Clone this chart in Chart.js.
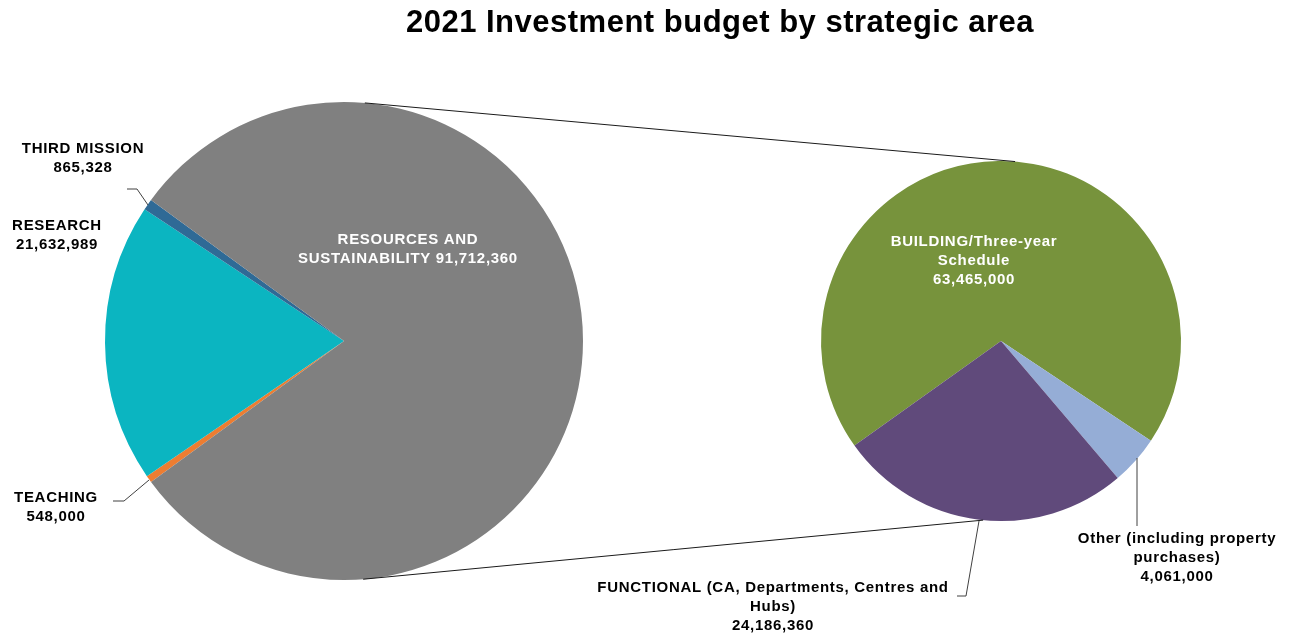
<!DOCTYPE html>
<html>
<head>
<meta charset="utf-8">
<title>2021 Investment budget by strategic area</title>
<script src="https://cdn.jsdelivr.net/npm/chart.js@4.4.1/dist/chart.umd.min.js"></script>
<style>
  html, body { margin: 0; padding: 0; background: #fff; }
  #wrap { position: relative; width: 1290px; height: 637px; }
  #wrap canvas { position: absolute; left: 0; top: 0; }
</style>
</head>
<body>
<div id="wrap">
  <canvas id="main-pie" width="1290" height="637"></canvas>
  <canvas id="sub-pie" width="1290" height="637"></canvas>
</div>
<script>
// strategic areas (big pie)
var mainLabels = ['TEACHING', 'RESEARCH', 'THIRD MISSION', 'RESOURCES AND SUSTAINABILITY'];
var mainValues = [548000, 21632989, 865328, 91712360];
var mainColors = ['#ED7D31', '#0BB5C1', '#2F6A96', '#808080'];

// breakdown of resources and sustainability (small pie)
var subLabels = ['BUILDING/Three-year Schedule', 'Other (including property purchases)', 'FUNCTIONAL (CA, Departments, Centres and Hubs)'];
var subValues = [63465000, 4061000, 24186360];
var subColors = ['#77933C', '#95ADD6', '#604A7B'];

var titleText = '2021 Investment budget by strategic area';

var fmt = function(v){ return v.toLocaleString('en-US'); };
var FONT = '"Liberation Sans", Arial, sans-serif';

// the split slice is the last one: keep the rest centred on the left
var total = mainValues.reduce(function(a, b){ return a + b; }, 0);
var restDeg = 360 * (total - mainValues[3]) / total;
var mainRotation = 270 - restDeg / 2;

// where each label goes, and how it is wrapped
var mainText = [
	{ lines: ['TEACHING'], x: 56, y: 498, leader: [[113,501],[124,501],[149,480]] },
	{ lines: ['RESEARCH'], x: 57, y: 226 },
	{ lines: ['THIRD MISSION'], x: 83, y: 149, leader: [[127,189],[137,189],[148,205]] },
	{ lines: ['RESOURCES AND', 'SUSTAINABILITY'], x: 408, y: 240, color: '#fff', inline: true }
];
var subText = [
	{ lines: ['BUILDING/Three-year', 'Schedule'], x: 974, y: 242, color: '#fff' },
	{ lines: ['Other (including property', 'purchases)'], x: 1177, y: 539, leader: [[1137,458],[1137,526]] },
	{ lines: ['FUNCTIONAL (CA, Departments, Centres and', 'Hubs)'], x: 773, y: 588, leader: [[957,596],[966,596],[979,521]] }
];

var mainChart = new Chart(document.getElementById('main-pie').getContext('2d'), {
	type: 'pie',
	data: {
		labels: mainLabels,
		datasets: [{ data: mainValues, backgroundColor: mainColors, borderWidth: 0 }]
	},
	options: {
		responsive: false,
		animation: false,
		rotation: mainRotation,
		layout: { padding: { left: 105, top: 102, right: 707, bottom: 57 } },
		plugins: { legend: { display: false }, tooltip: { enabled: false } }
	}
});

var pointOn = function(arc, deg){
	var a = deg * Math.PI / 180;
	return [arc.x + arc.outerRadius * Math.cos(a), arc.y + arc.outerRadius * Math.sin(a)];
};

var drawLines = function(ctx, pts){
	ctx.beginPath();
	ctx.moveTo(pts[0][0], pts[0][1]);
	for (var i = 1; i < pts.length; i++) ctx.lineTo(pts[i][0], pts[i][1]);
	ctx.stroke();
};

var drawLabels = function(ctx, specs, values){
	specs.forEach(function(s, i){
		var lines = s.lines.slice();
		if (s.inline) lines[lines.length - 1] += ' ' + fmt(values[i]);
		else lines.push(fmt(values[i]));
		if (s.leader) drawLines(ctx, s.leader);
		ctx.fillStyle = s.color || '#000';
		lines.forEach(function(t, k){ ctx.fillText(t, s.x, s.y + k * 19); });
	});
};

var annotations = {
	id: 'annotations',
	afterDraw: function(chart){
		var ctx = chart.ctx;
		var big = mainChart.getDatasetMeta(0).data[0];
		var small = chart.getDatasetMeta(0).data[0];
		ctx.save();
		ctx.strokeStyle = '#1a1a1a';
		ctx.lineWidth = 1;

		// connector lines between the two pies
		drawLines(ctx, [pointOn(big, -85), pointOn(small, -85.5)]);
		drawLines(ctx, [pointOn(big, 85.4), pointOn(small, 95.7)]);

		ctx.font = 'bold 15px ' + FONT;
		ctx.letterSpacing = '0.7px';
		ctx.textAlign = 'center';
		ctx.textBaseline = 'middle';
		ctx.strokeStyle = '#404040';
		drawLabels(ctx, mainText, mainValues);
		drawLabels(ctx, subText, subValues);

		ctx.font = 'bold 31px ' + FONT;
		ctx.letterSpacing = '0.5px';
		ctx.fillStyle = '#000';
		ctx.fillText(titleText, 720, 23);
		ctx.restore();
	}
};

new Chart(document.getElementById('sub-pie').getContext('2d'), {
	type: 'pie',
	data: {
		labels: subLabels,
		datasets: [{ data: subValues, backgroundColor: subColors, borderWidth: 0 }]
	},
	options: {
		responsive: false,
		animation: false,
		rotation: 234.5,
		layout: { padding: { left: 821, top: 161, right: 109, bottom: 116 } },
		plugins: { legend: { display: false }, tooltip: { enabled: false } }
	},
	plugins: [annotations]
});
</script>
</body>
</html>
